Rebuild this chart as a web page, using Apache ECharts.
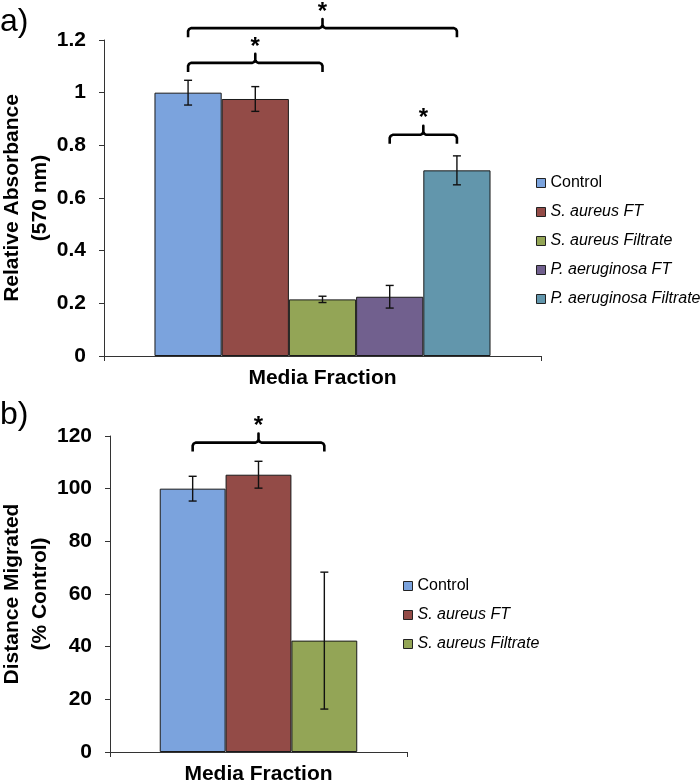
<!DOCTYPE html>
<html>
<head>
<meta charset="utf-8">
<script src="https://cdn.jsdelivr.net/npm/echarts@6/dist/echarts.min.js"></script>
<style>html,body{margin:0;padding:0;background:#fff}#c{width:700px;height:783px}</style>
</head>
<body>
<div id="c"></div>
<script>
// ---- data ----
const categories = ['Media Fraction'];
const namesA = ['Control', 'S. aureus FT', 'S. aureus Filtrate', 'P. aeruginosa FT', 'P. aeruginosa Filtrate'];
const absorbance = [1.0, 0.976, 0.215, 0.225, 0.705];
const absorbanceErr = [0.047, 0.047, 0.012, 0.043, 0.055];
const namesB = ['Control', 'S. aureus FT', 'S. aureus Filtrate'];
const migration = [100, 105.3, 42.3];
const migrationErr = [4.7, 5.1, 26];
// brackets: [from series index, to series index, y level]
const bracketsA = [[0, 4, 1.245], [0, 2, 1.113], [3, 4, 0.84]];
const bracketsB = [[0, 2, 117.5]];
const yTicksA = {min: 0, max: 1.2, interval: 0.2};
const yTicksB = {min: 0, max: 120, interval: 20};

// ---- style ----
const colors = ['#7ba3dd', '#934b47', '#93a556', '#71608e', '#6296ac'];
const FONT = 'Liberation Sans, Arial, sans-serif';
const gapA = 0.231, gapB = 0.335;

function barCenter(api, idx, n, gap) {
  const c = api.coord([0, 0]);
  const band = api.size([1, 0])[0];
  const bw = band * (1 - gap) / n;
  return c[0] + (idx + 0.5 - n / 2) * bw;
}

function errRender(n, gap) {
  return function (params, api) {
    const mean = api.value(1), err = api.value(2), idx = api.value(3);
    const x = barCenter(api, idx, n, gap);
    const t = api.coord([0, mean + err])[1];
    const b = api.coord([0, mean - err])[1];
    const st = {stroke: '#111', lineWidth: 1.4};
    const h = 4;
    return {type: 'group', children: [
      {type: 'line', shape: {x1: x, y1: t, x2: x, y2: b}, style: st},
      {type: 'line', shape: {x1: x - h, y1: t, x2: x + h, y2: t}, style: st},
      {type: 'line', shape: {x1: x - h, y1: b, x2: x + h, y2: b}, style: st}
    ]};
  };
}

function bracketRender(n, gap) {
  return function (params, api) {
    const yv = api.value(1), i1 = api.value(2), i2 = api.value(3);
    const x1 = barCenter(api, i1, n, gap);
    const x2 = barCenter(api, i2, n, gap);
    const xm = (x1 + x2) / 2;
    const y = api.coord([0, yv])[1];
    const d = 9, r = 3;
    const pts = [
      [x1, y + d], [x1, y + r], [x1 + 1, y + 1], [x1 + r, y], [xm - r, y], [xm - 1, y - 1], [xm, y - r], [xm, y - d],
      [xm, y - r], [xm + 1, y - 1], [xm + r, y], [x2 - r, y], [x2 - 1, y + 1], [x2, y + r], [x2, y + d]
    ];
    return {type: 'group', children: [
      {type: 'polyline', shape: {points: pts}, style: {stroke: '#000', lineWidth: 2.6, fill: null, lineJoin: 'round'}},
      {type: 'text', style: {text: '*', x: xm, y: y - 16, fill: '#000', font: 'bold 24px ' + FONT, align: 'center', verticalAlign: 'middle'}}
    ]};
  };
}

const legendFmt = name => name === 'Control' ? name : '{i|' + name + '}';
const legendText = {fontFamily: FONT, fontSize: 16, color: '#000', lineHeight: 16, rich: {i: {fontStyle: 'italic', fontFamily: FONT, fontSize: 16, color: '#000'}}};

function xAxisCfg(grid, margin) {
  return {
    type: 'category', gridIndex: grid, data: categories,
    axisLine: {show: true, lineStyle: {color: '#333', width: 1}},
    axisTick: {show: true, length: 5, lineStyle: {color: '#333'}},
    axisLabel: {fontFamily: FONT, fontWeight: 'bold', fontSize: 21, color: '#000', margin: margin}
  };
}
function yAxisCfg(grid, ticks, name, gap) {
  return {
    type: 'value', gridIndex: grid, min: ticks.min, max: ticks.max, interval: ticks.interval,
    name: name, nameLocation: 'middle', nameGap: gap, nameRotate: 90, nameMoveOverlap: false,
    nameTextStyle: {fontFamily: FONT, fontWeight: 'bold', fontSize: 21, color: '#000', lineHeight: 28},
    splitLine: {show: false},
    axisLine: {show: true, lineStyle: {color: '#333', width: 1}},
    axisTick: {show: true, length: 5, lineStyle: {color: '#333'}},
    axisLabel: {fontFamily: FONT, fontWeight: 'bold', fontSize: 21, color: '#000', margin: 18}
  };
}

const series = [];
namesA.forEach((nm, i) => series.push({
  name: nm, type: 'bar', xAxisIndex: 0, yAxisIndex: 0, data: [absorbance[i]],
  barGap: 0, barCategoryGap: (gapA * 100) + '%',
  itemStyle: {color: colors[i], borderColor: '#1a1a1a', borderWidth: 1}
}));
namesB.forEach((nm, i) => series.push({
  name: nm, type: 'bar', xAxisIndex: 1, yAxisIndex: 1, data: [migration[i]],
  barGap: 0, barCategoryGap: (gapB * 100) + '%',
  itemStyle: {color: colors[i], borderColor: '#1a1a1a', borderWidth: 1}
}));
series.push({
  type: 'custom', xAxisIndex: 0, yAxisIndex: 0, renderItem: errRender(namesA.length, gapA),
  encode: {x: 0, y: 1}, clip: false, z: 5,
  data: absorbance.map((v, i) => [0, v, absorbanceErr[i], i])
});
series.push({
  type: 'custom', xAxisIndex: 1, yAxisIndex: 1, renderItem: errRender(namesB.length, gapB),
  encode: {x: 0, y: 1}, clip: false, z: 5,
  data: migration.map((v, i) => [0, v, migrationErr[i], i])
});
series.push({
  type: 'custom', xAxisIndex: 0, yAxisIndex: 0, renderItem: bracketRender(namesA.length, gapA),
  encode: {x: 0, y: 1}, clip: false, z: 5,
  data: bracketsA.map(b => [0, b[2], b[0], b[1]])
});
series.push({
  type: 'custom', xAxisIndex: 1, yAxisIndex: 1, renderItem: bracketRender(namesB.length, gapB),
  encode: {x: 0, y: 1}, clip: false, z: 5,
  data: bracketsB.map(b => [0, b[2], b[0], b[1]])
});

const chart = echarts.init(document.getElementById('c'), null, {renderer: 'canvas'});
chart.setOption({
  animation: false,
  backgroundColor: '#fff',
  grid: [
    {left: 104, top: 40, width: 437, height: 316, containLabel: false, outerBoundsMode: 'none'},
    {left: 110, top: 436, width: 297, height: 316, containLabel: false, outerBoundsMode: 'none'}
  ],
  xAxis: [xAxisCfg(0, 12), xAxisCfg(1, 12)],
  yAxis: [
    yAxisCfg(0, yTicksA, 'Relative Absorbance\n(570 nm)', 50),
    yAxisCfg(1, yTicksB, 'Distance Migrated\n(% Control)', 56)
  ],
  legend: [
    {data: namesA, orient: 'vertical', left: 531, top: 170, itemWidth: 9, itemHeight: 9, itemGap: 13,
     icon: 'rect', formatter: legendFmt, textStyle: legendText, selectedMode: false,
     itemStyle: {borderColor: '#222', borderWidth: 1}},
    {data: namesB, orient: 'vertical', left: 398, top: 573, itemWidth: 9, itemHeight: 9, itemGap: 13,
     icon: 'rect', formatter: legendFmt, textStyle: legendText, selectedMode: false,
     itemStyle: {borderColor: '#222', borderWidth: 1}}
  ],
  graphic: [
    {type: 'text', left: 0, top: 6, style: {text: 'a)', font: '32px ' + FONT, fill: '#000'}},
    {type: 'text', left: 0, top: 399, style: {text: 'b)', font: '32px ' + FONT, fill: '#000'}}
  ],
  series: series
});
</script>
</body>
</html>
